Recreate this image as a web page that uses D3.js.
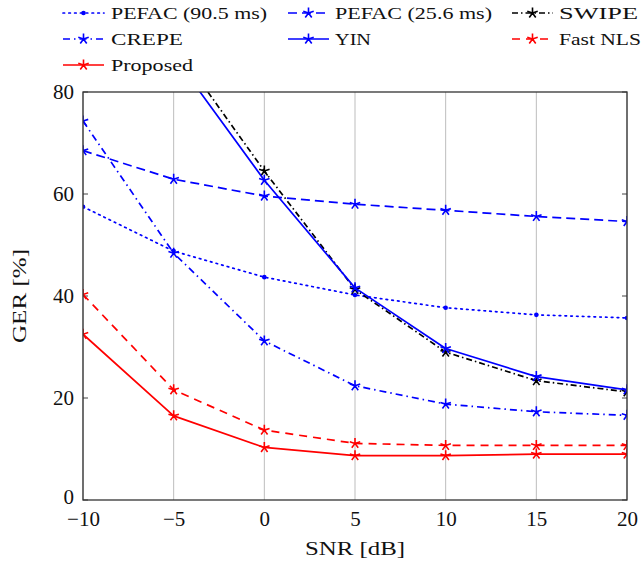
<!DOCTYPE html>
<html>
<head>
<meta charset="utf-8">
<script src="https://cdn.jsdelivr.net/npm/d3@7"></script>
<style>
  body { margin: 0; background: #fff; }
  svg { display: block; }
</style>
</head>
<body>
<svg id="chart" width="642" height="571"></svg>
<script>
// ---- data ----
const snr = [-10, -5, 0, 5, 10, 15, 20];
const xTicks = [-10, -5, 0, 5, 10, 15, 20];
const yTicks = [0, 20, 40, 60, 80];
const pefac905 = [57.5, 48.8, 43.7, 40.2, 37.7, 36.3, 35.7];
const pefac256 = [68.5, 62.9, 59.6, 58.0, 56.8, 55.6, 54.6];
const swipe    = [99.0, 89.4, 64.5, 41.3, 29.0, 23.4, 21.2];
const crepe    = [74.3, 48.4, 31.2, 22.4, 18.8, 17.3, 16.6];
const yin      = [98.0, 87.1, 62.7, 41.6, 29.7, 24.2, 21.6];
const fastNLS  = [40.3, 21.6, 13.7, 11.1, 10.7, 10.7, 10.7];
const proposed = [32.5, 16.5, 10.3, 8.7, 8.7, 9.0, 9.0];
const seriesNames = ["PEFAC (90.5 ms)", "PEFAC (25.6 ms)", "SWIPE", "CREPE", "YIN", "Fast NLS", "Proposed"];
const xLabel = "SNR [dB]";
const yLabel = "GER [%]";

const FONT = "'Liberation Serif', 'DejaVu Serif', 'Noto Serif', Tinos, 'Times New Roman', Times, serif";

// ---- styles ----
const styles = [
  { color: "#0000ff", dash: "1.6,4.2", mark: "dot",  cap: "round" },
  { color: "#0000ff", dash: "9,5",     mark: "star", cap: "butt" },
  { color: "#000000", dash: "6,3,1.5,3", mark: "star", cap: "butt" },
  { color: "#0000ff", dash: "7,4,1.5,4", mark: "star", cap: "butt" },
  { color: "#0000ff", dash: null,      mark: "star", cap: "butt" },
  { color: "#ff0000", dash: "8,6",     mark: "star", cap: "butt" },
  { color: "#ff0000", dash: null,      mark: "star", cap: "butt" }
];
const seriesData = [pefac905, pefac256, swipe, crepe, yin, fastNLS, proposed];

const svg = d3.select("#chart").style("font-family", FONT);
const L = 83, R = 627, T = 92, B = 500;
const x = d3.scaleLinear().domain([-10, 20]).range([L, R]);
const y = d3.scaleLinear().domain([0, 80]).range([B, T]);

svg.append("defs").append("clipPath").attr("id", "plotclip")
  .append("rect").attr("x", L).attr("y", T).attr("width", R - L).attr("height", B - T);

svg.append("g").selectAll("line").data(xTicks).join("line")
  .attr("x1", d => x(d)).attr("x2", d => x(d))
  .attr("y1", T).attr("y2", B)
  .attr("stroke", "#bdbdbd").attr("stroke-width", 1);

const tickG = svg.append("g").attr("stroke", "#444").attr("stroke-width", 1);
yTicks.forEach(t => {
  tickG.append("line").attr("x1", L).attr("x2", L + 5).attr("y1", y(t)).attr("y2", y(t));
  tickG.append("line").attr("x1", R - 5).attr("x2", R).attr("y1", y(t)).attr("y2", y(t));
});

const xAxis = d3.axisBottom(x).tickValues(xTicks).tickSize(0).tickPadding(11)
  .tickFormat(d => d < 0 ? "\u2212" + Math.abs(d) : String(d));
const gx = svg.append("g").attr("transform", `translate(0,${B})`).call(xAxis);
gx.attr("font-family", null).attr("font-size", 21);
gx.select(".domain").remove();
gx.selectAll("text").attr("fill", "#111").style("font-family", FONT);

const yAxis = d3.axisLeft(y).tickValues(yTicks).tickSize(0).tickPadding(9).tickFormat(d => String(d));
const gy = svg.append("g").attr("transform", `translate(${L},0)`).call(yAxis);
gy.attr("font-family", null).attr("font-size", 21);
gy.select(".domain").remove();
gy.selectAll("text").attr("fill", "#111").style("font-family", FONT);
gy.selectAll(".tick").filter(d => d === 0).select("text").attr("dy", "0.15em");

function starPath(cx, cy, r) {
  let p = "";
  for (let k = 0; k < 5; k++) {
    const a = (90 + k * 72) * Math.PI / 180;
    p += `M${cx},${cy}L${cx + r * Math.cos(a)},${cy - r * Math.sin(a)}`;
  }
  return p;
}

const plotG = svg.append("g").attr("clip-path", "url(#plotclip)");
const line = d3.line().x((d, i) => x(snr[i])).y(d => y(d));

seriesData.forEach((vals, si) => {
  const st = styles[si];
  const g = plotG.append("g");
  g.append("path").datum(vals).attr("d", line)
    .attr("fill", "none").attr("stroke", st.color).attr("stroke-width", 1.7)
    .attr("stroke-dasharray", st.dash).attr("stroke-linecap", st.cap)
    .attr("stroke-linejoin", "round");
  if (st.mark === "star") {
    g.selectAll("path.m").data(vals).join("path").attr("class", "m")
      .attr("d", (d, i) => starPath(x(snr[i]), y(d), 5.5))
      .attr("stroke", st.color).attr("stroke-width", 1.6).attr("fill", "none");
  } else {
    g.selectAll("circle").data(vals).join("circle")
      .attr("cx", (d, i) => x(snr[i])).attr("cy", d => y(d)).attr("r", 2.3)
      .attr("fill", st.color);
  }
});

svg.append("rect").attr("x", L).attr("y", T).attr("width", R - L).attr("height", B - T)
  .attr("fill", "none").attr("stroke", "#333").attr("stroke-width", 1.3);

svg.append("text").attr("x", (L + R) / 2).attr("y", 555).attr("text-anchor", "middle")
  .style("font-family", FONT).attr("font-size", 19).attr("fill", "#111")
  .attr("textLength", 100).attr("lengthAdjust", "spacingAndGlyphs").text(xLabel);
svg.append("text").attr("transform", `translate(26,${(T + B) / 2}) rotate(-90)`).attr("text-anchor", "middle")
  .style("font-family", FONT).attr("font-size", 19).attr("fill", "#111")
  .attr("textLength", 94).attr("lengthAdjust", "spacingAndGlyphs").text(yLabel);

const legendPos = [
  { lx: 63, tx: 111, cy: 13, w: 156 },
  { lx: 288, tx: 335, cy: 13, w: 157 },
  { lx: 512, tx: 559, cy: 13, w: 79 },
  { lx: 63, tx: 111, cy: 39, w: 72 },
  { lx: 288, tx: 335, cy: 39, w: 36 },
  { lx: 512, tx: 559, cy: 39, w: 82 },
  { lx: 63, tx: 111, cy: 65, w: 82 }
];
const lg = svg.append("g");
seriesNames.forEach((name, si) => {
  const p = legendPos[si], st = styles[si];
  lg.append("line").attr("x1", p.lx).attr("x2", p.lx + 41).attr("y1", p.cy).attr("y2", p.cy)
    .attr("stroke", st.color).attr("stroke-width", 1.7)
    .attr("stroke-dasharray", st.dash).attr("stroke-linecap", st.cap);
  const mx = p.lx + 20.5;
  if (st.mark === "star") {
    lg.append("path").attr("d", starPath(mx, p.cy, 5.5)).attr("stroke", st.color)
      .attr("stroke-width", 1.6).attr("fill", "none");
  } else {
    lg.append("circle").attr("cx", mx).attr("cy", p.cy).attr("r", 2.3).attr("fill", st.color);
  }
  lg.append("text").attr("x", p.tx).attr("y", p.cy + 6)
    .style("font-family", FONT).attr("font-size", 17).attr("fill", "#111")
    .attr("textLength", p.w).attr("lengthAdjust", "spacingAndGlyphs")
    .text(name);
});
</script>
</body>
</html>
